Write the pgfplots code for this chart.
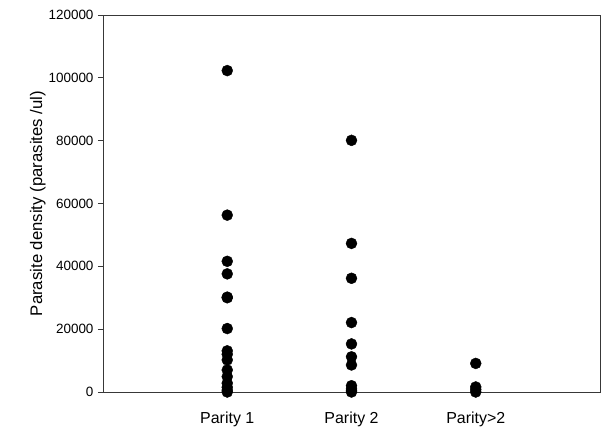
\documentclass[border=0pt]{standalone}
\usepackage{fontspec}
\setmainfont{Liberation Sans}
\usepackage{pgfplots}
\pgfplotsset{compat=1.18}

\begin{document}
\begin{tikzpicture}
  \begin{axis}[
      name=ax, at={(0,0)}, anchor=south west,
      scale only axis,
      width=497bp, height=377bp,
      xmin=0, xmax=4, ymin=0, ymax=120000,
      xtick={1,2,3},
      xticklabels={Parity 1, Parity 2, Parity>2},
      x tick style={draw=none},
      ytick={0,20000,40000,60000,80000,100000,120000},
      yticklabels={0,20000,40000,60000,80000,100000,120000},
      ytick pos=left,
      tick align=outside,
      major tick length=5bp,
      scaled y ticks=false,
      axis line style={draw=black!78, line width=0.9bp},
      y tick style={draw=black!78, line width=0.9bp},
      yticklabel style={font=\fontsize{13.5}{16}\selectfont, xshift=-1bp},
      xticklabel style={font=\fontsize{16}{19}\selectfont, yshift=-11bp},
      ylabel={Parasite density (parasites /ul)},
      ylabel style={font=\fontsize{16.8}{19}\selectfont, at={(axis description cs:0,0.5)},
                    anchor=south, yshift=54bp},
      clip=false,
  ]
  % Parity 1
  \addplot[only marks, mark=*, mark size=5.5bp, mark options={fill=black, draw=black}]
    coordinates {
      (1,102300) (1,56300) (1,41600) (1,37600) (1,30200) (1,30000)
      (1,20200) (1,13100) (1,12000) (1,10200) (1,7000) (1,4900)
      (1,2800) (1,1500) (1,600) (1,0)
    };
  % Parity 2
  \addplot[only marks, mark=*, mark size=5.5bp, mark options={fill=black, draw=black}]
    coordinates {
      (2,80100) (2,47300) (2,36200) (2,22100) (2,15300) (2,11200)
      (2,8600) (2,2000) (2,1000) (2,400) (2,0)
    };
  % Parity>2
  \addplot[only marks, mark=*, mark size=5.5bp, mark options={fill=black, draw=black}]
    coordinates {
      (3,9100) (3,1600) (3,800) (3,0)
    };
  \end{axis}
  \pgfresetboundingbox
  \path[use as bounding box] (-103bp,-35bp) rectangle (499bp,392bp);
\end{tikzpicture}
\end{document}
